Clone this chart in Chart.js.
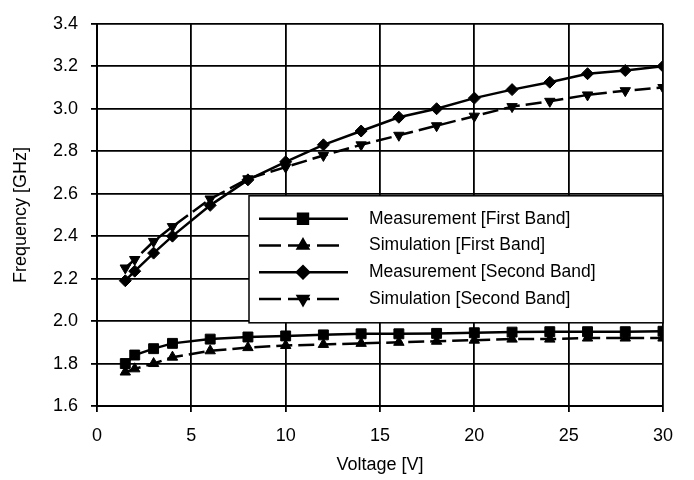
<!DOCTYPE html>
<html>
<head>
<meta charset="utf-8">
<title>Frequency vs Voltage</title>
<script src="https://cdn.jsdelivr.net/npm/chart.js@4.4.1/dist/chart.umd.min.js"></script>
<style>
  body { margin: 0; background: #fff; }
  #wrap { width: 694px; height: 480px; }
</style>
</head>
<body>
<div id="wrap"><canvas id="chart" width="694" height="480"></canvas></div>
<script>
// Data
const voltages = [1.5, 2, 3, 4, 6, 8, 10, 12, 14, 16, 18, 20, 22, 24, 26, 28, 30];
const measFirst = [1.80, 1.84, 1.87, 1.895, 1.915, 1.925, 1.93, 1.935, 1.94, 1.94, 1.942, 1.945, 1.948, 1.95, 1.95, 1.95, 1.952];
const simFirst = [1.76, 1.775, 1.80, 1.83, 1.86, 1.875, 1.885, 1.89, 1.895, 1.90, 1.905, 1.91, 1.915, 1.915, 1.92, 1.92, 1.92];
const measSecond = [2.19, 2.235, 2.32, 2.40, 2.545, 2.665, 2.75, 2.83, 2.895, 2.96, 3.0, 3.05, 3.09, 3.125, 3.165, 3.18, 3.20];
const simSecond = [2.25, 2.29, 2.375, 2.445, 2.575, 2.67, 2.725, 2.78, 2.83, 2.875, 2.92, 2.965, 3.01, 3.035, 3.065, 3.085, 3.10];
const seriesLabels = [
    'Measurement [First Band]',
    'Simulation [First Band]',
    'Measurement [Second Band]',
    'Simulation [Second Band]'
];

const FONT = 'Arial, "Liberation Sans", sans-serif';

function toPoints(values) {
    return voltages.map((v, i) => ({ x: v, y: values[i] }));
}

function makeSeries(label, values, style, radius, rotation, dashed) {
    return {
        label: label,
        data: toPoints(values),
        showLine: true,
        borderColor: '#000',
        backgroundColor: '#000',
        borderWidth: 2.5,
        borderDash: dashed ? [16, 6] : [],
        pointStyle: style,
        pointRadius: radius,
        pointRotation: rotation,
        pointBackgroundColor: '#000',
        pointBorderColor: '#000',
        pointBorderWidth: 1,
        tension: 0
    };
}

// Boxed legend inside the plot, drawn with each dataset's own style
const boxLegend = {
    id: 'boxLegend',
    afterDraw(chart) {
        const ctx = chart.ctx;
        const area = chart.chartArea;
        const left = area.left + 152;
        const top = area.top + 172;
        const right = area.right;
        const bottom = top + 127;

        ctx.save();
        ctx.fillStyle = '#fff';
        ctx.fillRect(left, top, right - left, bottom - top);
        ctx.strokeStyle = '#000';
        ctx.lineWidth = 1.5;
        ctx.strokeRect(left, top, right - left, bottom - top);

        chart.data.datasets.forEach((ds, i) => {
            const y = top + 23 + i * 26.7;
            ctx.strokeStyle = '#000';
            ctx.lineWidth = 2.5;
            ctx.setLineDash(ds.borderDash.length ? [22, 7] : []);
            ctx.beginPath();
            ctx.moveTo(left + 10, y);
            ctx.lineTo(left + (ds.borderDash.length ? 91 : 99), y);
            ctx.stroke();
            ctx.setLineDash([]);

            ctx.fillStyle = '#000';
            Chart.helpers.drawPoint(ctx, {
                pointStyle: ds.pointStyle,
                radius: ds.pointRadius,
                rotation: ds.pointRotation,
                borderWidth: 1
            }, left + 54, y);

            ctx.fillStyle = '#000';
            ctx.font = '17.5px ' + FONT;
            ctx.textBaseline = 'middle';
            ctx.textAlign = 'left';
            ctx.fillText(ds.label, left + 120, y);
        });
        ctx.restore();
    }
};

const ctx = document.getElementById('chart').getContext('2d');
new Chart(ctx, {
    type: 'scatter',
    data: {
        datasets: [
            makeSeries(seriesLabels[0], measFirst, 'rect', 7, 0, false),
            makeSeries(seriesLabels[1], simFirst, 'triangle', 6, 0, true),
            makeSeries(seriesLabels[2], measSecond, 'rectRot', 6, 0, false),
            makeSeries(seriesLabels[3], simSecond, 'triangle', 6, 180, true)
        ]
    },
    options: {
        responsive: false,
        animation: false,
        layout: { padding: { top: 12, right: 31, left: 0, bottom: 0 } },
        plugins: {
            legend: { display: false },
            tooltip: { enabled: false }
        },
        scales: {
            x: {
                type: 'linear',
                min: 0,
                max: 30,
                afterFit: scale => { scale.height = 74; },
                ticks: {
                    stepSize: 5,
                    color: '#000',
                    padding: 13,
                    font: { family: FONT, size: 18 }
                },
                grid: { color: '#000', lineWidth: 1.8, tickLength: 6, tickColor: '#000' },
                border: { color: '#000', width: 2 },
                title: {
                    display: true,
                    text: 'Voltage [V]',
                    color: '#000',
                    font: { family: FONT, size: 18 },
                    padding: { top: 0, bottom: 4 }
                }
            },
            y: {
                min: 1.6,
                max: 3.4,
                afterFit: scale => { scale.width = 97; },
                ticks: {
                    stepSize: 0.2,
                    color: '#000',
                    padding: 13,
                    font: { family: FONT, size: 18 },
                    callback: value => value.toFixed(1)
                },
                grid: { color: '#000', lineWidth: 1.8, tickLength: 6, tickColor: '#000' },
                border: { color: '#000', width: 2 },
                title: {
                    display: true,
                    text: 'Frequency [GHz]',
                    color: '#000',
                    font: { family: FONT, size: 18 },
                    padding: { top: 10, bottom: 0 }
                }
            }
        }
    },
    plugins: [boxLegend]
});
</script>
</body>
</html>
